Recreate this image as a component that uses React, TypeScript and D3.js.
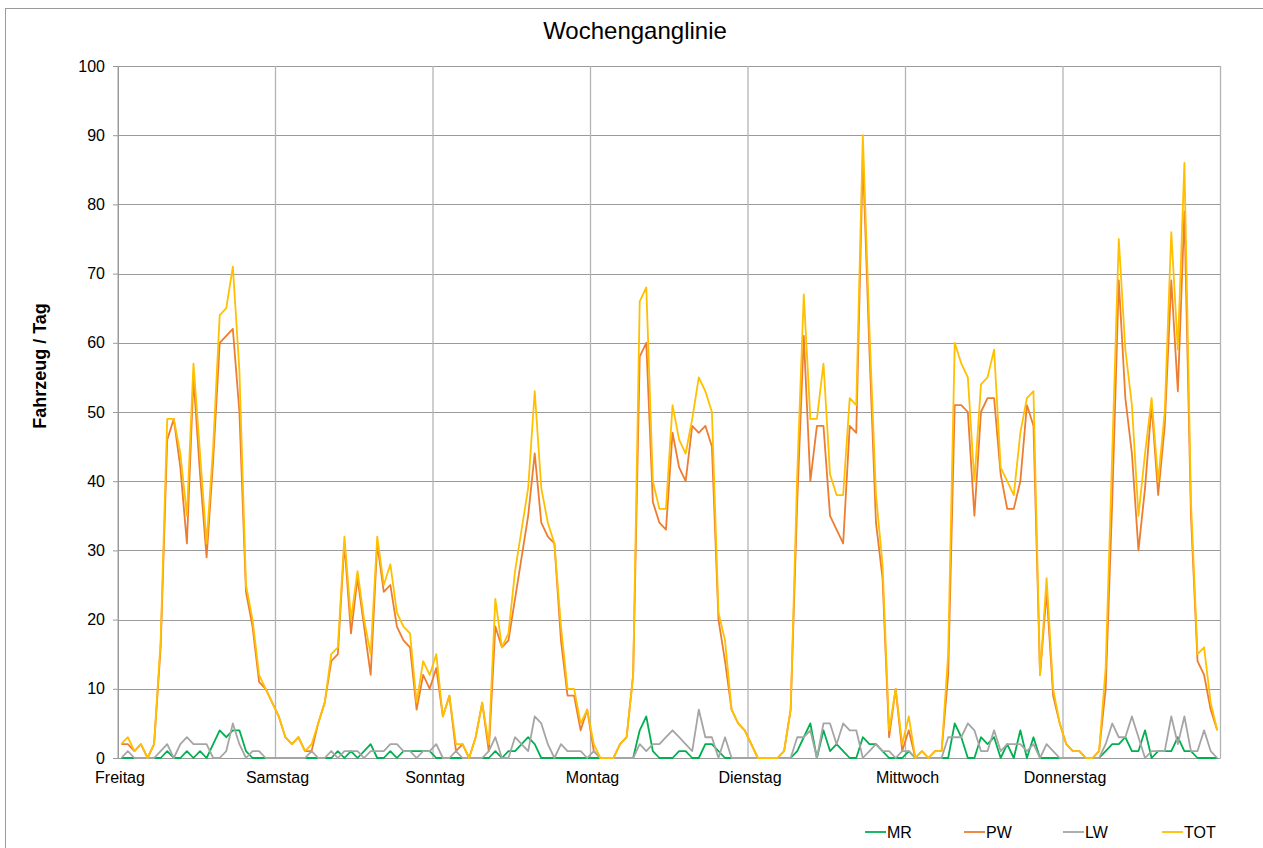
import React, { useEffect, useRef } from 'react';
import * as d3 from 'd3';

// Stundenwerte, 7 Tage x 24 Stunden (Freitag .. Donnerstag)
const days = ['Freitag', 'Samstag', 'Sonntag', 'Montag', 'Dienstag', 'Mittwoch', 'Donnerstag'];

const mr = [
  0, 0, 0, 0, 0, 0, 0, 1, 0, 0, 1, 0, 1, 0, 2, 4, 3, 4, 4, 1, 0, 0, 0, 0,
  0, 0, 0, 0, 0, 0, 0, 0, 0, 1, 0, 1, 0, 1, 2, 0, 0, 1, 0, 1, 1, 1, 1, 1,
  0, 0, 0, 0, 0, 0, 0, 0, 0, 1, 0, 1, 1, 2, 3, 2, 0, 0, 0, 0, 0, 0, 0, 0,
  0, 0, 0, 0, 0, 0, 0, 4, 6, 1, 0, 0, 0, 1, 1, 0, 0, 2, 2, 1, 0, 0, 0, 0,
  0, 0, 0, 0, 0, 0, 0, 1, 3, 5, 0, 4, 1, 2, 1, 0, 0, 3, 2, 2, 1, 0, 0, 0,
  1, 0, 0, 0, 0, 0, 0, 5, 3, 0, 0, 3, 2, 3, 0, 2, 0, 4, 0, 3, 0, 0, 0, 0,
  0, 0, 0, 0, 0, 0, 1, 2, 2, 3, 1, 1, 4, 0, 1, 1, 1, 3, 1, 1, 0, 0, 0, 0,
];

const pw = [
  2, 2, 1, 2, 0, 2, 16, 46, 49, 42, 31, 55, 41, 29, 43, 60, 61, 62, 50, 24, 19, 11, 10, 8,
  6, 3, 2, 3, 1, 1, 5, 8, 14, 15, 31, 18, 26, 19, 12, 31, 24, 25, 19, 17, 16, 7, 12, 10,
  13, 6, 9, 1, 2, 0, 3, 8, 1, 19, 16, 17, 23, 29, 35, 44, 34, 32, 31, 17, 9, 9, 4, 7,
  1, 0, 0, 0, 2, 3, 12, 58, 60, 37, 34, 33, 47, 42, 40, 48, 47, 48, 45, 20, 14, 7, 5, 4,
  2, 0, 0, 0, 0, 1, 7, 37, 61, 40, 48, 48, 35, 33, 31, 48, 47, 87, 59, 34, 26, 3, 10, 1,
  4, 0, 1, 0, 1, 1, 12, 51, 51, 50, 35, 50, 52, 52, 41, 36, 36, 40, 51, 48, 12, 24, 9, 5,
  2, 1, 1, 0, 0, 1, 10, 37, 69, 52, 44, 30, 39, 51, 38, 48, 69, 53, 79, 35, 14, 12, 7, 4,
];

const lw = [
  0, 1, 0, 0, 0, 0, 1, 2, 0, 2, 3, 2, 2, 2, 0, 0, 1, 5, 2, 0, 1, 1, 0, 0,
  0, 0, 0, 0, 0, 1, 0, 0, 1, 0, 1, 1, 1, 0, 1, 1, 1, 2, 2, 1, 1, 0, 1, 1,
  2, 0, 0, 1, 0, 0, 0, 0, 1, 3, 0, 0, 3, 2, 1, 6, 5, 2, 0, 2, 1, 1, 1, 0,
  1, 0, 0, 0, 0, 0, 0, 2, 1, 2, 2, 3, 4, 3, 2, 1, 7, 3, 3, 0, 3, 0, 0, 0,
  0, 0, 0, 0, 0, 0, 0, 3, 3, 4, 0, 5, 5, 2, 5, 4, 4, 0, 1, 2, 1, 1, 0, 1,
  1, 0, 0, 0, 0, 0, 3, 3, 3, 5, 4, 1, 1, 4, 1, 2, 2, 2, 1, 2, 0, 2, 1, 0,
  0, 0, 0, 0, 0, 0, 2, 5, 3, 3, 6, 3, 0, 1, 1, 1, 6, 2, 6, 1, 1, 4, 1, 0,
];

const tot = [
  2, 3, 1, 2, 0, 2, 17, 49, 49, 44, 35, 57, 44, 31, 45, 64, 65, 71, 56, 25, 20, 12, 10, 8,
  6, 3, 2, 3, 1, 2, 5, 8, 15, 16, 32, 20, 27, 20, 15, 32, 25, 28, 21, 19, 18, 8, 14, 12,
  15, 6, 9, 2, 2, 0, 3, 8, 2, 23, 16, 18, 27, 33, 39, 53, 39, 34, 31, 19, 10, 10, 5, 7,
  2, 0, 0, 0, 2, 3, 12, 66, 68, 40, 36, 36, 51, 46, 44, 49, 55, 53, 50, 21, 17, 7, 5, 4,
  2, 0, 0, 0, 0, 1, 7, 41, 67, 49, 49, 57, 41, 38, 38, 52, 51, 90, 62, 38, 28, 4, 10, 2,
  6, 0, 1, 0, 1, 1, 15, 60, 57, 55, 40, 54, 55, 59, 42, 40, 38, 47, 52, 53, 12, 26, 10, 5,
  2, 1, 1, 0, 0, 1, 13, 44, 75, 59, 51, 35, 44, 52, 40, 50, 76, 59, 86, 37, 15, 16, 8, 4,
];

const yTicks = [0, 10, 20, 30, 40, 50, 60, 70, 80, 90, 100];

const series = [
  { name: 'MR', values: mr, color: '#00b050' },
  { name: 'PW', values: pw, color: '#ed7d31' },
  { name: 'LW', values: lw, color: '#a5a5a5' },
  { name: 'TOT', values: tot, color: '#ffc000' },
];

const FONT = '"Liberation Sans", Arial, sans-serif';

const Wochenganglinie: React.FC = () => {
  const svgRef = useRef<SVGSVGElement>(null);

  useEffect(() => {
    if (!svgRef.current) return;
    const svg = d3.select(svgRef.current);
    svg.selectAll('*').remove();

    const left = 118, right = 1220.5, top = 66, bottom = 758;
    const hours = days.length * 24;

    const x = d3.scaleLinear().domain([0, hours]).range([left, right]);
    const y = d3.scaleLinear().domain([0, 100]).range([bottom, top]);

    // Rahmen
    svg.append('rect')
      .attr('x', 5.5).attr('y', 8.5)
      .attr('width', 1300).attr('height', 900)
      .attr('fill', '#fff')
      .attr('stroke', '#9a9a9a');

    // Titel
    svg.append('text')
      .attr('x', 635).attr('y', 39)
      .attr('text-anchor', 'middle')
      .attr('font-family', FONT)
      .attr('font-size', 24)
      .attr('fill', '#000')
      .text('Wochenganglinie');

    // horizontale Gitterlinien
    svg.append('g').selectAll('line')
      .data(yTicks.filter(t => t > 0))
      .enter().append('line')
      .attr('x1', left).attr('x2', right)
      .attr('y1', d => Math.round(y(d)) + 0.5).attr('y2', d => Math.round(y(d)) + 0.5)
      .attr('stroke', '#9a9a9a').attr('stroke-width', 1);

    // vertikale Gitterlinien (Tagesgrenzen)
    svg.append('g').selectAll('line')
      .data(d3.range(days.length + 1))
      .enter().append('line')
      .attr('x1', d => x(d * 24)).attr('x2', d => x(d * 24))
      .attr('y1', top).attr('y2', bottom)
      .attr('stroke', '#b4b4b4').attr('stroke-width', 1.3);

    // y-Achse
    const yAxis = d3.axisLeft(y).tickValues(yTicks).tickSize(5).tickPadding(8);
    const yg = svg.append('g').attr('transform', `translate(${left},0)`).call(yAxis);
    yg.select('.domain').attr('stroke', '#9a9a9a');
    yg.selectAll('.tick line').attr('stroke', '#9a9a9a');
    yg.selectAll('.tick text')
      .attr('font-family', FONT).attr('font-size', 16).attr('fill', '#000');

    // x-Achse
    svg.append('line')
      .attr('x1', left).attr('x2', right)
      .attr('y1', bottom + 0.5).attr('y2', bottom + 0.5)
      .attr('stroke', '#9a9a9a');

    svg.append('g').selectAll('text')
      .data(days)
      .enter().append('text')
      .attr('x', (d, i) => x(i * 24) + 2)
      .attr('y', 783)
      .attr('text-anchor', 'middle')
      .attr('font-family', FONT).attr('font-size', 16)
      .text(d => d);

    // Achsentitel
    svg.append('text')
      .attr('transform', 'translate(46,366) rotate(-90)')
      .attr('text-anchor', 'middle')
      .attr('font-family', FONT).attr('font-size', 18).attr('font-weight', 'bold')
      .text('Fahrzeug / Tag');

    // Linien
    const line = d3.line<number>()
      .x((d, i) => x(i + 0.5))
      .y(d => y(d));

    svg.append('g').selectAll('path')
      .data(series)
      .enter().append('path')
      .attr('d', d => line(d.values))
      .attr('fill', 'none')
      .attr('stroke', d => d.color)
      .attr('stroke-width', 1.8)
      .attr('stroke-linejoin', 'round');

    // Legende
    const lg = svg.append('g').selectAll('g')
      .data(series)
      .enter().append('g')
      .attr('transform', (d, i) => `translate(${865 + i * 99},832)`);
    lg.append('line')
      .attr('x1', 0).attr('x2', 21)
      .attr('stroke', d => d.color).attr('stroke-width', 1.8);
    lg.append('text')
      .attr('x', 22).attr('y', 6)
      .attr('font-family', FONT).attr('font-size', 16)
      .text(d => d.name);
  }, []);

  return (
    <svg
      ref={svgRef}
      width={1263}
      height={848}
      style={{ position: 'absolute', left: 0, top: 0, display: 'block' }}
    />
  );
};

export default function App() {
  return <Wochenganglinie />;
}
